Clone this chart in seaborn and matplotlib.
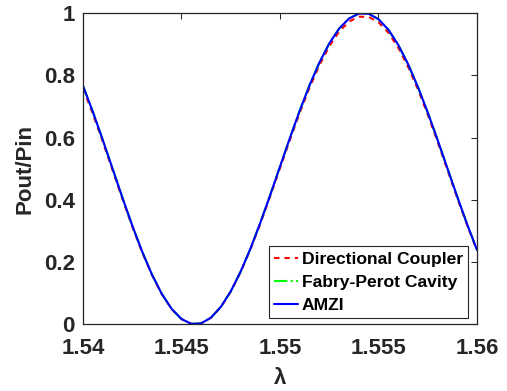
import matplotlib
matplotlib.use("Agg")
import matplotlib.pyplot as plt
import seaborn as sns
import pandas as pd

wavelength = [1.5400, 1.5405, 1.5410, 1.5415, 1.5420, 1.5425, 1.5430, 1.5435, 1.5440, 1.5445,
              1.5450, 1.5455, 1.5460, 1.5465, 1.5470, 1.5475, 1.5480, 1.5485, 1.5490, 1.5495,
              1.5500, 1.5505, 1.5510, 1.5515, 1.5520, 1.5525, 1.5530, 1.5535, 1.5540, 1.5545,
              1.5550, 1.5555, 1.5560, 1.5565, 1.5570, 1.5575, 1.5580, 1.5585, 1.5590, 1.5595,
              1.5600]

amzi = [0.7660, 0.6826, 0.5929, 0.5000, 0.4071, 0.3174, 0.2340, 0.1599, 0.0977, 0.0495,
        0.0170, 0.0014, 0.0030, 0.0215, 0.0562, 0.1058, 0.1690, 0.2430, 0.3260, 0.4147,
        0.5065, 0.5978, 0.6860, 0.7678, 0.8407, 0.9019, 0.9497, 0.9820, 0.9982, 0.9975,
        0.9801, 0.9465, 0.8979, 0.8359, 0.7626, 0.6805, 0.5922, 0.5009, 0.4096, 0.3213,
        0.2390]

fabry_perot = [0.7660, 0.6826, 0.5929, 0.5000, 0.4071, 0.3174, 0.2340, 0.1599, 0.0977, 0.0495,
               0.0170, 0.0014, 0.0030, 0.0215, 0.0562, 0.1058, 0.1690, 0.2430, 0.3260, 0.4147,
               0.5065, 0.5978, 0.6860, 0.7678, 0.8407, 0.9019, 0.9497, 0.9820, 0.9982, 0.9975,
               0.9801, 0.9465, 0.8979, 0.8359, 0.7626, 0.6805, 0.5922, 0.5009, 0.4096, 0.3213,
               0.2390]

directional_coupler = [0.7583, 0.6758, 0.5870, 0.4950, 0.4030, 0.3142, 0.2317, 0.1583, 0.0967, 0.0490,
                       0.0168, 0.0014, 0.0030, 0.0213, 0.0556, 0.1047, 0.1673, 0.2406, 0.3227, 0.4106,
                       0.5014, 0.5918, 0.6791, 0.7601, 0.8323, 0.8929, 0.9402, 0.9722, 0.9882, 0.9875,
                       0.9703, 0.9370, 0.8889, 0.8275, 0.7550, 0.6737, 0.5863, 0.4959, 0.4055, 0.3181,
                       0.2366]

series_names = ["Directional Coupler", "Fabry-Perot Cavity", "AMZI"]
x_ticks = [1.54, 1.545, 1.55, 1.555, 1.56]
x_tick_labels = ["1.54", "1.545", "1.55", "1.555", "1.56"]
y_ticks = [0, 0.2, 0.4, 0.6, 0.8, 1]
y_tick_labels = ["0", "0.2", "0.4", "0.6", "0.8", "1"]

sns.set_style("white")
plt.rcParams["font.family"] = ["Liberation Sans", "DejaVu Sans"]
plt.rcParams["font.weight"] = "bold"

dark = "#262626"
fig = plt.figure(figsize=(5.07, 3.91), dpi=100)
ax = fig.add_axes([0.1637, 0.1706, 0.9408 - 0.1637, 0.9668 - 0.1706])

df = pd.DataFrame({"wl": wavelength, "dc": directional_coupler,
                   "fp": fabry_perot, "amzi": amzi})

sns.lineplot(data=df, x="wl", y="dc", ax=ax, color="#ff0000", lw=1.5,
             linestyle=(0, (2.6, 2.4)), label=series_names[0])
sns.lineplot(data=df, x="wl", y="fp", ax=ax, color="#00ff00", lw=1.5,
             linestyle="-.", label=series_names[1])
sns.lineplot(data=df, x="wl", y="amzi", ax=ax, color="#0000ff", lw=1.5,
             linestyle="-", label=series_names[2])

ax.set_xlim(1.54, 1.56)
ax.set_ylim(0, 1)
ax.set_xticks(x_ticks)
ax.set_xticklabels(x_tick_labels)
ax.set_yticks(y_ticks)
ax.set_yticklabels(y_tick_labels)

ax.tick_params(axis="both", which="both", direction="in", length=4, width=0.75,
               color=dark, labelcolor=dark, labelsize=16,
               top=True, right=True)
ax.tick_params(axis="x", pad=10)
ax.tick_params(axis="y", pad=6)
for lab in ax.get_xticklabels() + ax.get_yticklabels():
    lab.set_fontweight("bold")
for sp in ax.spines.values():
    sp.set_visible(True)
    sp.set_color(dark)
    sp.set_linewidth(0.9)

ax.set_xlabel("λ", fontsize=16, fontweight="bold", color=dark, labelpad=6)
ax.set_ylabel("Pout/Pin", fontsize=16, fontweight="bold", color=dark, labelpad=6)

leg = ax.legend(loc="lower right", bbox_to_anchor=(0.977, 0.019), borderaxespad=0,
                fancybox=False, framealpha=1, edgecolor=dark,
                prop={"weight": "bold", "size": 12.6},
                handlelength=1.35, handletextpad=0.2, labelspacing=0.45,
                borderpad=0.3)
leg.get_frame().set_linewidth(0.8)
for t in leg.get_texts():
    t.set_color("black")

fig.savefig("out.png", dpi=100)
